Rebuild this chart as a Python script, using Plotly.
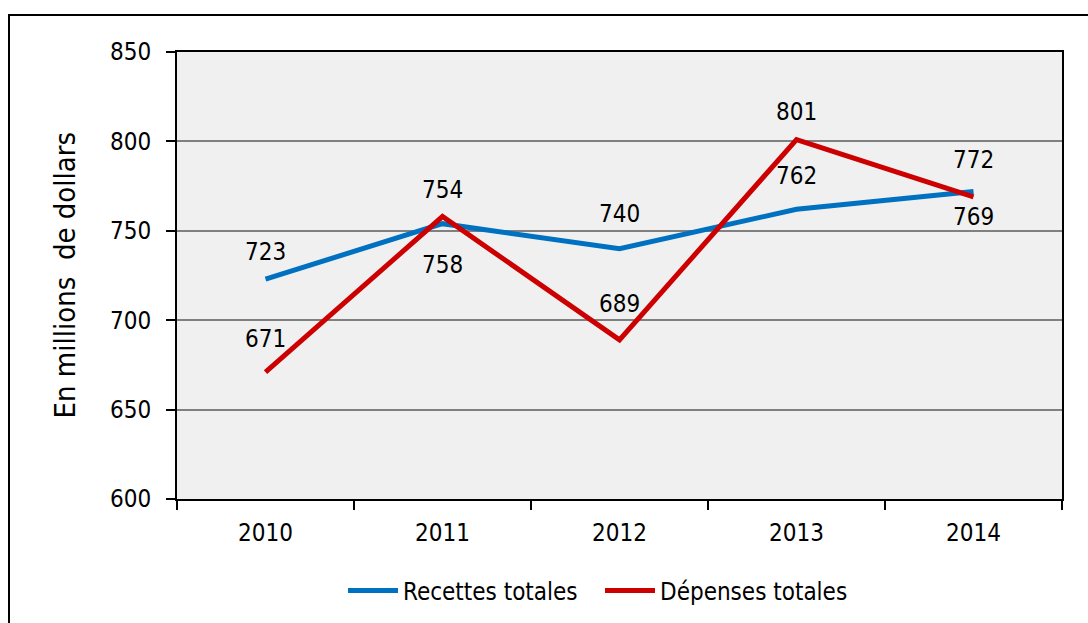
import plotly.graph_objects as go

years = ["2010", "2011", "2012", "2013", "2014"]
recettes = [723, 754, 740, 762, 772]
depenses = [671, 758, 689, 801, 769]
y_ticks = [600, 650, 700, 750, 800, 850]

# vertical offsets (px) of each value label relative to its point
recettes_shift = [27, 34, 35, 33, 31]
depenses_shift = [33, -48, 36, 28, -20]

BLUE = "#0070C0"
RED = "#CC0000"
FONT = "DejaVu Sans Condensed, Liberation Sans Narrow, Arial Narrow, sans-serif"
FS = 24

W, H = 1088, 623
L, R, T, B = 177, 26, 52, 124
pw, ph = W - L - R, H - T - B

xs = list(range(len(years)))

fig = go.Figure()
fig.add_trace(go.Scatter(x=xs, y=recettes, mode="lines", name="Recettes totales",
                         line=dict(color=BLUE, width=5)))
fig.add_trace(go.Scatter(x=xs, y=depenses, mode="lines", name="Dépenses totales",
                         line=dict(color=RED, width=5)))

annotations = []
for vals, shifts in ((recettes, recettes_shift), (depenses, depenses_shift)):
    for i, (v, s) in enumerate(zip(vals, shifts)):
        annotations.append(dict(x=i, y=v, text=str(v), showarrow=False, yshift=s,
                                font=dict(family=FONT, size=FS, color="#000000")))

annotations.append(dict(x=(64 - L) / pw, y=0.5, xref="paper", yref="paper",
                        xanchor="center", yanchor="middle",
                        text="En millions  de dollars", textangle=-90, showarrow=False,
                        font=dict(family=FONT, size=29, color="#000000")))

fig.update_layout(
    width=W, height=H,
    margin=dict(l=L, r=R, t=T, b=B, autoexpand=False),
    paper_bgcolor="white",
    plot_bgcolor="#F0F0F0",
    font=dict(family=FONT, size=FS, color="#000000"),
    showlegend=True,
    legend=dict(orientation="h", x=(343 - L) / pw, xanchor="left", y=-0.155, yanchor="top",
                font=dict(family=FONT, size=FS), itemwidth=50, tracegroupgap=0,
                entrywidth=192, entrywidthmode="pixels",
                bgcolor="rgba(0,0,0,0)"),
    annotations=annotations,
    shapes=[dict(type="rect", xref="paper", yref="paper",
                 x0=(9 - L) / pw, x1=1.3, y0=-0.5, y1=(H - B - 15) / ph,
                 line=dict(color="#000000", width=2), fillcolor="rgba(0,0,0,0)",
                 layer="below")],
)

fig.update_xaxes(range=[-0.5, len(years) - 0.5], tickmode="array", tickvals=xs,
                 ticktext=years, ticks="", showgrid=False, zeroline=False,
                 showline=True, linecolor="#000000", linewidth=2, mirror=True,
                 tickfont=dict(family=FONT, size=FS), ticklabelstandoff=11,
                 minor=dict(tickmode="linear", tick0=-0.5, dtick=1, ticks="outside",
                            ticklen=9, tickwidth=2, tickcolor="#000000", showgrid=False))
fig.update_yaxes(range=[600, 850], tickmode="array", tickvals=y_ticks, ticks="outside",
                 ticklen=9, tickwidth=2, tickcolor="#000000",
                 showgrid=True, gridcolor="#808080", gridwidth=2, zeroline=False,
                 showline=True, linecolor="#000000", linewidth=2, mirror=True,
                 tickfont=dict(family=FONT, size=FS), ticklabelstandoff=10)

fig.write_html("out.html")
